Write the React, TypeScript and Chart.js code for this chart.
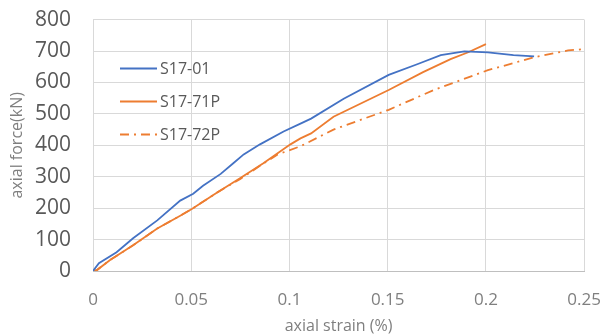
import React, { useEffect, useRef } from "react";
import { Chart, registerables } from "chart.js";

Chart.register(...registerables);

const seriesNames = ["S17-01", "S17-71P", "S17-72P"];

const s1Strain = [0, 0.003, 0.012, 0.0204, 0.0327, 0.0444, 0.051, 0.056, 0.065, 0.0714, 0.0767, 0.085, 0.097, 0.1056, 0.111, 0.1276, 0.1505, 0.165, 0.177, 0.189, 0.201, 0.214, 0.2245];
const s1Force = [0, 25, 60, 104, 161, 224, 246, 271, 309, 343, 371, 403, 444, 469, 485, 548, 624, 658, 687, 699, 696, 687, 683];

const s2Strain = [0, 0.002, 0.0087, 0.0204, 0.0327, 0.0444, 0.0505, 0.063, 0.075, 0.0867, 0.1005, 0.1056, 0.111, 0.1224, 0.1505, 0.168, 0.182, 0.191, 0.2];
const s2Force = [0, 3, 35, 82, 135, 176, 198, 249, 296, 343, 403, 422, 438, 491, 576, 633, 674, 696, 722];

const s3Strain = [0, 0.002, 0.0087, 0.0204, 0.0327, 0.0444, 0.0505, 0.063, 0.075, 0.085, 0.094, 0.1056, 0.1224, 0.1505, 0.1735, 0.201, 0.2245, 0.2418, 0.25];
const s3Force = [0, 3, 35, 82, 135, 176, 198, 249, 293, 335, 371, 397, 450, 513, 576, 639, 680, 702, 706];

const xTicks = [0, 0.05, 0.1, 0.15, 0.2, 0.25];
const yTicks = [0, 100, 200, 300, 400, 500, 600, 700, 800];

const BLUE = "#4472C4";
const ORANGE = "#ED7D31";
const FONT = "'Open Sans', 'Noto Sans', sans-serif";

const toPts = (xs: number[], ys: number[]) => xs.map((x, i) => ({ x, y: ys[i] }));

const legendPlugin = {
  id: "insideLegend",
  afterDatasetsDraw(chart: any) {
    const { ctx, chartArea } = chart;
    const x0 = chartArea.left + 27;
    const x1 = chartArea.left + 64;
    const rows = [49, 82, 115];
    chart.data.datasets.forEach((ds: any, i: number) => {
      const y = chartArea.top + rows[i];
      ctx.save();
      ctx.strokeStyle = ds.borderColor;
      ctx.lineWidth = 2;
      ctx.setLineDash(ds.borderDash || []);
      ctx.beginPath();
      ctx.moveTo(x0, y);
      ctx.lineTo(x1, y);
      ctx.stroke();
      ctx.setLineDash([]);
      ctx.fillStyle = "#595959";
      ctx.font = `16px ${FONT}`;
      ctx.textBaseline = "middle";
      ctx.textAlign = "left";
      ctx.fillText(ds.label, x1 + 3, y + 1);
      ctx.restore();
    });
  },
};

export default function App() {
  const ref = useRef<HTMLCanvasElement>(null);
  useEffect(() => {
    document.body.style.margin = "0";
    const chart = new Chart(ref.current!, {
      type: "scatter",
      data: {
        datasets: [
          { label: seriesNames[0], data: toPts(s1Strain, s1Force), borderColor: BLUE, backgroundColor: BLUE, showLine: true, borderWidth: 1.8, pointRadius: 0, tension: 0 },
          { label: seriesNames[1], data: toPts(s2Strain, s2Force), borderColor: ORANGE, backgroundColor: ORANGE, showLine: true, borderWidth: 1.8, pointRadius: 0, tension: 0 },
          { label: seriesNames[2], data: toPts(s3Strain, s3Force), borderColor: ORANGE, backgroundColor: ORANGE, showLine: true, borderWidth: 1.8, pointRadius: 0, tension: 0, borderDash: [9, 5, 2, 5] },
        ],
      },
      options: {
        animation: false,
        responsive: false,
        layout: { padding: { top: 2, right: 21, left: 8, bottom: 0 } },
        plugins: { legend: { display: false }, tooltip: { enabled: false } },
        scales: {
          x: {
            type: "linear",
            min: 0,
            max: 0.25,
            afterBuildTicks: (axis: any) => { axis.ticks = xTicks.map((v) => ({ value: v })); },
            afterFit: (axis: any) => { axis.height = 65; },
            grid: { color: "#D9D9D9", lineWidth: 1, drawTicks: false },
            border: { color: "#BFBFBF", width: 1 },
            ticks: { color: "#7F7F7F", font: { family: FONT, size: 17 }, padding: 19, maxRotation: 0, callback: (v: any) => String(Number(v)) },
            title: { display: true, text: "axial strain (%)", color: "#7F7F7F", font: { family: FONT, size: 16 }, padding: { top: 0, bottom: 0 } },
          },
          y: {
            type: "linear",
            min: 0,
            max: 800,
            afterBuildTicks: (axis: any) => { axis.ticks = yTicks.map((v) => ({ value: v })); },
            afterFit: (axis: any) => { axis.width = 85; },
            grid: { color: "#D9D9D9", lineWidth: 1, drawTicks: false },
            border: { display: false },
            ticks: { color: "#595959", font: { family: FONT, size: 21 }, padding: 22 },
            title: { display: true, text: "axial force(kN)", color: "#7F7F7F", font: { family: FONT, size: 16 }, padding: { top: 0, bottom: 0 } },
          },
        },
      },
      plugins: [legendPlugin],
    } as any);
    return () => chart.destroy();
  }, []);
  return (
    <div style={{ position: "absolute", left: 0, top: 0, width: 612, height: 336, overflow: "hidden", background: "#fff" }}>
      <canvas ref={ref} width={620} height={351} style={{ position: "absolute", left: 0, top: -15, width: 620, height: 351 }} />
    </div>
  );
}
